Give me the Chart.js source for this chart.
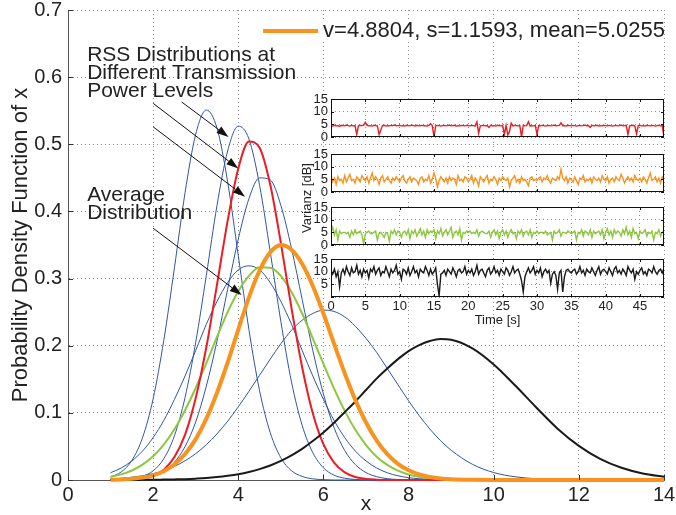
<!DOCTYPE html>
<html>
<head>
<meta charset="utf-8">
<title>RSS distributions</title>
<script src="https://cdn.jsdelivr.net/npm/chart.js@4.4.1/dist/chart.umd.min.js"></script>
<style>
  html, body { margin: 0; padding: 0; background: #fff; }
  #wrap { position: relative; width: 676px; height: 515px; }
  #wrap canvas { position: absolute; left: 0; top: 0; }
</style>
</head>
<body>
<div id="wrap">
  <canvas id="pdfChart" width="676" height="515"></canvas>
  <canvas id="var1" width="676" height="515"></canvas>
  <canvas id="var2" width="676" height="515"></canvas>
  <canvas id="var3" width="676" height="515"></canvas>
  <canvas id="var4" width="676" height="515"></canvas>
</div>
<script>
const X_GRID = [1, 1.25, 1.5, 1.75, 2, 2.25, 2.5, 2.75, 3, 3.25, 3.5, 3.75, 4, 4.25, 4.5, 4.75,
  5, 5.25, 5.5, 5.75, 6, 6.25, 6.5, 6.75, 7, 7.25, 7.5, 7.75, 8, 8.25, 8.5, 8.75, 9,
  9.5, 10, 10.5, 11, 11.5, 12, 12.5, 13, 13.5, 14];

const PDF_AVERAGE = [0.0004, 0.0008, 0.0018, 0.0036, 0.0070, 0.0131, 0.0230, 0.0386, 0.0609, 0.0914, 0.130, 0.175, 0.224, 0.272, 0.312, 0.339,
  0.350, 0.343, 0.322, 0.289, 0.248, 0.203, 0.159, 0.119, 0.0857, 0.0587, 0.0385, 0.0240, 0.0144, 0.0083, 0.0045, 0.0024, 0.0012,
  0.0003, 0, 0, 0, 0, 0, 0, 0, 0, 0];
const PDF_RED = [0.0001, 0.0002, 0.0008, 0.0023, 0.0063, 0.0154, 0.0342, 0.0675, 0.122, 0.198, 0.291, 0.386, 0.464, 0.504, 0.495, 0.440,
  0.353, 0.256, 0.168, 0.0994, 0.0533, 0.0259, 0.0113, 0.0045, 0.0016, 0.0005, 0.0001, 0, 0, 0, 0, 0, 0,
  0, 0, 0, 0, 0, 0, 0, 0, 0, 0];
const PDF_GREEN = [0.0048, 0.0084, 0.0141, 0.0228, 0.0353, 0.0527, 0.0755, 0.104, 0.137, 0.174, 0.213, 0.250, 0.281, 0.304, 0.317, 0.316,
  0.304, 0.280, 0.248, 0.211, 0.173, 0.136, 0.103, 0.0747, 0.0519, 0.0347, 0.0224, 0.0139, 0.0082, 0.0047, 0.0026, 0.0014, 0.0007,
  0.0002, 0, 0, 0, 0, 0, 0, 0, 0, 0];
const PDF_BLACK = [0, 0.0001, 0.0001, 0.0002, 0.0003, 0.0006, 0.0009, 0.0013, 0.0020, 0.0029, 0.0043, 0.0062, 0.0086, 0.0119, 0.0162, 0.0216,
  0.0284, 0.0367, 0.0464, 0.0580, 0.0708, 0.0853, 0.101, 0.117, 0.134, 0.151, 0.166, 0.180, 0.192, 0.201, 0.207, 0.210, 0.209,
  0.196, 0.172, 0.141, 0.108, 0.0765, 0.0509, 0.0315, 0.0182, 0.0098, 0.0050];
const PDF_BLUE_1 = [0.0044, 0.0120, 0.0292, 0.0629, 0.121, 0.208, 0.316, 0.428, 0.515, 0.551, 0.524, 0.444, 0.334, 0.224, 0.133, 0.0707,
  0.0331, 0.0139, 0.0053, 0.0017, 0.0005, 0, 0, 0, 0, 0, 0, 0, 0, 0, 0, 0, 0,
  0, 0, 0, 0, 0, 0, 0, 0, 0, 0];
const PDF_BLUE_2 = [0.0002, 0.0006, 0.0018, 0.0053, 0.0137, 0.0317, 0.0659, 0.123, 0.205, 0.305, 0.409, 0.490, 0.527, 0.508, 0.439, 0.340,
  0.236, 0.146, 0.0814, 0.0407, 0.0182, 0.0072, 0.0027, 0.0008, 0.0002, 0, 0, 0, 0, 0, 0, 0, 0,
  0, 0, 0, 0, 0, 0, 0, 0, 0, 0];
const PDF_BLUE_3 = [0.0001, 0.0003, 0.0009, 0.0024, 0.0058, 0.0128, 0.0263, 0.0498, 0.0866, 0.140, 0.207, 0.284, 0.359, 0.419, 0.450, 0.447,
  0.409, 0.345, 0.269, 0.193, 0.128, 0.0779, 0.0440, 0.0229, 0.0111, 0.0049, 0.0020, 0.0007, 0.0003, 0, 0, 0, 0,
  0, 0, 0, 0, 0, 0, 0, 0, 0, 0];
const PDF_BLUE_4 = [0.0108, 0.0179, 0.0284, 0.0431, 0.0632, 0.0887, 0.120, 0.155, 0.193, 0.232, 0.266, 0.294, 0.313, 0.319, 0.313, 0.294,
  0.266, 0.232, 0.193, 0.155, 0.120, 0.0887, 0.0632, 0.0431, 0.0284, 0.0179, 0.0108, 0.0063, 0.0035, 0.0019, 0.0010, 0.0005, 0.0002,
  0, 0, 0, 0, 0, 0, 0, 0, 0, 0];
const PDF_BLUE_5 = [0.0015, 0.0025, 0.0040, 0.0063, 0.0095, 0.0140, 0.0203, 0.0286, 0.0392, 0.0526, 0.0688, 0.0875, 0.109, 0.132, 0.156, 0.180,
  0.203, 0.223, 0.238, 0.248, 0.253, 0.251, 0.243, 0.229, 0.211, 0.190, 0.166, 0.142, 0.118, 0.0959, 0.0759, 0.0587, 0.0443,
  0.0234, 0.0111, 0.0048, 0.0019, 0.0007, 0.0002, 0, 0, 0, 0];

const LEGEND_TEXT = 'v=4.8804, s=1.1593, mean=5.0255';

// inset: variance over time, one sample every 0.25 s
const SAMPLE_STEP = 0.25;
const VAR_RED = [
  4.5, 4.3, 4.6, 4.4, 4.5, 4.2, 4.6, 4.5, 4.4, 4.7, 4.5, 4.3, 4.6, 4.4, 4.5, 1.0, 4.4, 4.6, 4.5, 4.7,
  5.8, 4.6, 4.4, 4.5, 4.3, 4.6, 4.5, 4.4, 1.0, 2.8, 4.5, 4.6, 4.3, 4.5, 4.4, 4.6, 4.5, 4.7, 4.4, 4.5,
  4.6, 4.4, 4.5, 4.3, 4.6, 4.5, 4.4, 4.7, 4.5, 4.3, 4.6, 4.4, 4.5, 4.6, 4.4, 4.5, 4.3, 4.6, 5.2, 4.5,
  0.0, 4.4, 4.6, 4.5, 4.3, 4.5, 4.6, 4.4, 4.5, 4.7, 4.4, 4.5, 4.6, 4.3, 4.5, 4.4, 4.6, 4.5, 4.4, 4.6,
  4.5, 4.4, 4.6, 4.5, 4.3, 6.0, 1.5, 4.4, 4.5, 4.6, 4.4, 4.5, 3.8, 4.6, 4.4, 4.5, 4.3, 4.6, 4.5, 4.4,
  4.6, 1.0, 4.5, 0.8, 2.2, 5.5, 4.4, 4.6, 4.5, 4.4, 4.5, 0.0, 4.6, 4.4, 4.5, 6.0, 4.3, 4.5, 4.4, 4.6,
  1.0, 4.5, 4.4, 4.6, 4.5, 4.3, 4.5, 4.6, 4.4, 4.5, 4.7, 4.4, 4.5, 4.6, 5.6, 4.4, 4.5, 4.3, 4.6, 4.5,
  4.4, 4.6, 4.5, 4.3, 4.5, 4.6, 4.4, 4.5, 4.7, 4.4, 4.5, 3.8, 4.6, 4.4, 4.5, 4.6, 4.3, 4.5, 4.4, 4.6,
  4.5, 4.4, 4.6, 4.5, 4.3, 4.5, 4.6, 4.4, 4.5, 4.7, 4.4, 4.5, 4.6, 1.0, 4.4, 4.5, 4.6, 4.3, 1.2, 4.5,
  4.6, 4.4, 4.5, 4.3, 4.6, 4.5, 4.4, 4.6, 4.5, 4.3, 4.5, 4.6, 4.4, 4.5, 0.0];
const VAR_ORANGE = [
  6.5, 4.0, 5.5, 3.0, 6.0, 4.5, 5.0, 3.5, 6.5, 4.0, 5.5, 7.0, 4.5, 5.0, 3.5, 6.0, 5.0, 4.0, 6.5, 5.5,
  4.5, 6.0, 3.5, 5.5, 7.5, 4.5, 6.0, 5.0, 3.0, 5.5, 6.5, 4.0, 5.0, 6.0, 4.5, 3.5, 5.5, 4.5, 6.0, 5.0,
  4.0, 5.5, 6.5, 4.5, 3.5, 5.0, 6.0, 4.0, 5.5, 5.0, 4.5, 3.0, 5.5, 6.0, 4.0, 5.0, 4.5, 6.5, 3.5, 5.0,
  7.5, 5.5, 2.0, 4.5, 6.0, 5.0, 4.0, 5.5, 3.5, 6.0, 4.5, 5.5, 5.0, 3.0, 6.5, 4.5, 5.0, 4.0, 6.0, 5.5,
  4.0, 5.0, 6.5, 3.5, 5.5, 4.5, 2.5, 6.0, 5.0, 4.0, 5.5, 6.5, 3.5, 5.0, 4.5, 6.0, 5.0, 3.0, 5.5, 4.5,
  6.0, 5.0, 4.5, 5.5, 2.0, 4.5, 5.5, 6.5, 4.0, 5.0, 3.5, 6.0, 4.5, 5.0, 4.0, 2.5, 5.5, 6.0, 4.5, 5.0,
  4.5, 5.5, 6.0, 4.0, 5.5, 5.0, 6.5, 4.5, 3.5, 5.5, 5.0, 4.5, 6.0, 5.0, 9.0, 5.5, 4.5, 6.0, 3.5, 5.5,
  5.0, 4.0, 6.0, 4.5, 3.0, 5.5, 5.0, 6.5, 4.0, 5.0, 4.5, 5.5, 3.5, 6.0, 5.0, 4.5, 5.5, 4.0, 6.5, 5.0,
  4.5, 6.0, 3.5, 5.0, 5.5, 4.0, 6.0, 5.0, 4.5, 7.0, 5.5, 3.5, 5.0, 6.0, 4.5, 5.5, 4.0, 6.5, 5.0, 4.5,
  5.5, 4.0, 6.0, 5.0, 3.5, 5.5, 7.5, 4.5, 5.0, 6.0, 4.0, 5.5, 3.5, 6.0, 5.0];
const VAR_GREEN = [
  5.0, 7.0, 4.0, 6.0, 2.0, 5.5, 4.5, 5.0, 5.0, 4.5, 5.0, 3.0, 5.5, 4.0, 6.0, 4.5, 5.0, 5.5, 4.0, 0.5,
  4.5, 5.0, 5.5, 4.5, 4.5, 5.0, 5.5, 2.0, 4.5, 5.0, 4.0, 3.0, 5.0, 4.5, 1.5, 5.5, 4.5, 6.0, 4.0, 5.5,
  5.0, 3.0, 5.0, 5.5, 4.0, 6.0, 2.5, 5.5, 4.5, 6.0, 3.5, 5.0, 6.5, 4.0, 5.5, 3.0, 6.0, 4.5, 5.5, 5.0,
  6.0, 2.5, 5.5, 4.5, 6.5, 3.5, 5.0, 6.0, 4.0, 5.5, 7.0, 3.0, 5.0, 5.5, 4.0, 6.5, 2.0, 5.0, 4.5, 5.5,
  5.0, 5.5, 4.5, 5.0, 4.5, 6.0, 3.5, 5.0, 5.5, 5.0, 4.5, 4.5, 5.5, 3.0, 5.0, 6.0, 4.0, 5.5, 2.5, 5.0,
  6.0, 4.0, 5.5, 3.0, 5.0, 6.0, 4.5, 5.0, 2.5, 5.5, 4.5, 6.0, 3.5, 5.0, 5.5, 4.0, 6.0, 3.0, 5.0, 4.5,
  5.5, 4.5, 5.0, 5.0, 4.5, 5.5, 4.0, 4.5, 5.0, 2.0, 5.5, 4.5, 5.0, 6.0, 3.5, 5.0, 5.0, 4.5, 5.5, 5.0,
  4.5, 5.0, 5.5, 2.0, 5.0, 4.5, 6.0, 3.5, 5.5, 5.0, 4.0, 6.0, 3.0, 5.5, 4.5, 5.0, 5.5, 4.0, 6.0, 2.5,
  5.0, 6.5, 4.0, 5.5, 3.0, 6.0, 4.5, 5.5, 5.0, 3.5, 6.0, 4.5, 7.0, 4.0, 5.5, 3.0, 6.5, 4.5, 5.0, 2.5,
  5.5, 4.5, 5.0, 6.0, 3.5, 5.0, 4.5, 5.5, 2.0, 5.0, 4.5, 6.0, 3.5, 5.0, 5.5];
const VAR_BLACK = [
  10.5, 9.0, 11.0, 8.0, 10.0, 4.0, 9.5, 11.0, 9.0, 12.0, 10.0, 8.5, 11.5, 9.5, 10.0, 12.5, 9.0, 10.5, 8.0, 11.0,
  9.5, 10.5, 7.5, 11.0, 10.0, 12.0, 9.0, 10.5, 11.5, 8.5, 10.0, 9.5, 12.0, 10.0, 8.0, 11.0, 9.5, 10.5, 12.5, 9.0,
  10.0, 7.0, 11.0, 10.5, 9.0, 11.5, 8.5, 10.0, 12.0, 9.5, 10.5, 8.0, 11.0, 10.0, 9.5, 12.0, 10.5, 8.5, 11.0, 9.0,
  10.0, 11.5, 5.0, 0.5, 9.0, 9.5, 10.5, 8.5, 11.0, 10.0, 9.0, 11.5, 10.0, 8.0, 10.5, 11.0, 9.5, 10.0, 12.0, 9.0,
  10.5, 9.5, 11.0, 8.5, 10.0, 12.5, 9.0, 10.5, 11.0, 9.5, 8.0, 10.5, 11.5, 9.0, 10.0, 12.0, 9.5, 10.5, 8.5, 11.0,
  10.0, 9.0, 11.5, 10.5, 8.5, 10.0, 12.0, 9.5, 10.5, 11.0, 9.0, 6.5, 2.0, 8.0, 10.0, 11.5, 9.5, 10.5, 12.0, 9.0,
  10.5, 9.5, 11.5, 8.0, 10.0, 11.0, 9.5, 10.5, 5.5, 9.0, 10.0, 8.5, 3.0, 9.5, 10.5, 2.0, 8.0, 10.5, 11.0, 10.0,
  9.5, 10.5, 11.0, 9.0, 10.0, 12.0, 9.5, 10.5, 8.5, 11.0, 10.0, 9.5, 11.5, 10.0, 8.5, 10.5, 12.0, 9.0, 10.5, 11.0,
  10.0, 9.0, 11.5, 10.0, 8.5, 11.0, 12.0, 9.5, 10.5, 9.0, 11.0, 10.0, 8.5, 12.0, 10.5, 9.5, 11.0, 7.0, 10.0, 9.0,
  10.5, 11.5, 9.0, 10.0, 8.5, 11.0, 10.5, 9.5, 12.0, 10.0, 9.0, 10.5, 11.0, 9.5, 11.5];

// annotation text and arrows, in data units of the main chart
const NOTE_LINES = [
  { text: 'RSS Distributions at', x: 0.45, y: 0.624 },
  { text: 'Different Transmission', x: 0.45, y: 0.597 },
  { text: 'Power Levels', x: 0.45, y: 0.570 },
  { text: 'Average', x: 0.45, y: 0.4155 },
  { text: 'Distribution', x: 0.45, y: 0.388 }
];
const NOTE_ARROWS = [
  { from: [2.67, 0.563], to: [3.77, 0.511] },
  { from: [2.00, 0.561], to: [4.00, 0.464] },
  { from: [2.00, 0.526], to: [4.16, 0.422] },
  { from: [2.00, 0.375], to: [4.08, 0.2755] }
];

const FONT = '"Liberation Sans", Arial, Helvetica, sans-serif';
const TEXT_COLOR = '#222';
const GRID_COLOR = '#8c8c8c';
Chart.defaults.font.family = FONT;
Chart.defaults.color = TEXT_COLOR;

const BLUE = '#2E55A5';
const CURVES = [
  { values: PDF_AVERAGE, color: '#F7931E', width: 4 },
  { values: PDF_BLACK, color: '#1A1A1A', width: 2 },
  { values: PDF_RED, color: '#ED1C24', width: 2 },
  { values: PDF_GREEN, color: '#8DC63F', width: 2 },
  { values: PDF_BLUE_1, color: BLUE, width: 1 },
  { values: PDF_BLUE_2, color: BLUE, width: 1 },
  { values: PDF_BLUE_3, color: BLUE, width: 1 },
  { values: PDF_BLUE_4, color: BLUE, width: 1 },
  { values: PDF_BLUE_5, color: BLUE, width: 1 }
];

// matlab style ticks pointing into the plot
const inwardTicks = {
  id: 'inwardTicks',
  afterDraw(chart, args, opts) {
    const { ctx, chartArea: a, scales: { x, y } } = chart;
    const len = opts.length || 5;
    ctx.save();
    ctx.strokeStyle = opts.color || '#333';
    ctx.lineWidth = 1;
    ctx.beginPath();
    x.ticks.forEach(t => {
      const px = Math.round(x.getPixelForValue(t.value)) + 0.5;
      ctx.moveTo(px, a.bottom); ctx.lineTo(px, a.bottom - len);
      if (opts.mirror) { ctx.moveTo(px, a.top); ctx.lineTo(px, a.top + len); }
    });
    y.ticks.forEach(t => {
      const py = Math.round(y.getPixelForValue(t.value)) + 0.5;
      ctx.moveTo(a.left, py); ctx.lineTo(a.left + len, py);
      if (opts.mirror) { ctx.moveTo(a.right, py); ctx.lineTo(a.right - len, py); }
    });
    ctx.stroke();
    ctx.restore();
  }
};

const pdfLegend = {
  id: 'pdfLegend',
  afterDatasetsDraw(chart) {
    const { ctx, chartArea: a } = chart;
    const ds = chart.data.datasets[0];
    const yMid = a.top + 21;
    const textRight = a.right + 1;
    ctx.save();
    ctx.font = '22px ' + FONT;
    const w = ctx.measureText(LEGEND_TEXT).width;
    const lineEnd = textRight - w - 5;
    ctx.fillStyle = '#fff';
    ctx.fillRect(lineEnd - 62, yMid - 11, a.right - 1 - (lineEnd - 62), 22);
    ctx.textAlign = 'right';
    ctx.textBaseline = 'middle';
    ctx.fillStyle = TEXT_COLOR;
    ctx.fillText(LEGEND_TEXT, textRight, yMid);
    ctx.strokeStyle = ds.borderColor;
    ctx.lineWidth = ds.borderWidth;
    ctx.beginPath();
    ctx.moveTo(lineEnd - 55, yMid);
    ctx.lineTo(lineEnd, yMid);
    ctx.stroke();
    ctx.restore();
  }
};

const notes = {
  id: 'notes',
  afterDatasetsDraw(chart) {
    const { ctx, scales: { x, y } } = chart;
    ctx.save();
    ctx.font = '21px ' + FONT;
    ctx.fillStyle = TEXT_COLOR;
    ctx.textBaseline = 'alphabetic';
    NOTE_LINES.forEach(n => ctx.fillText(n.text, x.getPixelForValue(n.x), y.getPixelForValue(n.y)));
    ctx.strokeStyle = '#111';
    ctx.fillStyle = '#111';
    ctx.lineWidth = 1;
    NOTE_ARROWS.forEach(ar => {
      const x0 = x.getPixelForValue(ar.from[0]), y0 = y.getPixelForValue(ar.from[1]);
      const x1 = x.getPixelForValue(ar.to[0]), y1 = y.getPixelForValue(ar.to[1]);
      const ang = Math.atan2(y1 - y0, x1 - x0);
      const head = 12, half = 4;
      const bx = x1 - head * Math.cos(ang), by = y1 - head * Math.sin(ang);
      ctx.beginPath();
      ctx.moveTo(x0, y0);
      ctx.lineTo(bx, by);
      ctx.stroke();
      ctx.beginPath();
      ctx.moveTo(x1, y1);
      ctx.lineTo(bx + half * Math.sin(ang), by - half * Math.cos(ang));
      ctx.lineTo(bx - half * Math.sin(ang), by + half * Math.cos(ang));
      ctx.closePath();
      ctx.fill();
    });
    ctx.restore();
  }
};

// keep the plot box where the figure has it, whatever the label sizes
const pinY = width => s => { s.width = width; s.paddingTop = 0; s.paddingBottom = 0; };
const pinX = height => s => { s.height = height; s.paddingLeft = 0; s.paddingRight = 0; };

new Chart(document.getElementById('pdfChart'), {
  type: 'line',
  data: {
    datasets: CURVES.map(c => ({
      data: X_GRID.map((xv, i) => ({ x: xv, y: c.values[i] })),
      borderColor: c.color,
      backgroundColor: c.color,
      borderWidth: c.width,
      pointRadius: 0,
      fill: false,
      cubicInterpolationMode: 'monotone',
      clip: 6
    }))
  },
  options: {
    responsive: false,
    animation: false,
    devicePixelRatio: 1,
    events: [],
    layout: { autoPadding: false, padding: { left: 0, right: 12, top: 10, bottom: 0 } },
    scales: {
      x: {
        type: 'linear',
        min: 0,
        max: 14,
        afterFit: pinX(35),
        ticks: { stepSize: 2, font: { size: 20, lineHeight: 1 }, padding: 5, maxRotation: 0 },
        grid: { color: GRID_COLOR, drawTicks: false },
        border: { color: '#555', width: 1, dash: [1, 3] },
        title: { display: true, text: 'x', font: { size: 21, lineHeight: 1 }, padding: 0 }
      },
      y: {
        min: 0,
        max: 0.7,
        afterFit: pinY(68),
        ticks: { stepSize: 0.1, font: { size: 20, lineHeight: 1 }, padding: 6 },
        grid: { color: GRID_COLOR, drawTicks: false },
        border: { color: '#555', width: 1, dash: [1, 3] },
        title: { display: true, text: 'Probability Density Function of x', font: { size: 22 }, padding: { top: 8, bottom: 0 } }
      }
    },
    plugins: {
      legend: { display: false },
      tooltip: { enabled: false },
      inwardTicks: { length: 5 }
    }
  },
  plugins: [inwardTicks, notes, pdfLegend]
});

// inset with the four variance traces
const BOX_LEFT = 331;
const BOX_RIGHT = 664;
const BOX_TOPS = [99, 154, 207, 259];
const BOX_H = 38;
const Y_LABEL_W = 30;
const T_AXIS_H = 30;

const insetFrame = {
  id: 'insetFrame',
  beforeDraw(chart) {
    const { ctx, chartArea: a } = chart;
    ctx.save();
    ctx.fillStyle = '#fff';
    ctx.fillRect(a.left, a.top, a.right - a.left, a.bottom - a.top);
    ctx.restore();
  },
  afterDraw(chart, args, opts) {
    const { ctx, chartArea: a } = chart;
    ctx.save();
    ctx.strokeStyle = '#111';
    ctx.lineWidth = 1;
    ctx.strokeRect(a.left + 0.5, a.top + 0.5, a.right - a.left - 1, a.bottom - a.top - 1);
    if (opts.groupLabel) {
      const mid = (BOX_TOPS[0] + BOX_TOPS[BOX_TOPS.length - 1] + BOX_H) / 2;
      ctx.translate(a.left - 24, mid);
      ctx.rotate(-Math.PI / 2);
      ctx.font = '13px ' + FONT;
      ctx.fillStyle = TEXT_COLOR;
      ctx.textAlign = 'center';
      ctx.textBaseline = 'middle';
      ctx.fillText(opts.groupLabel, 0, 0);
    }
    ctx.restore();
  }
};

function makeInset(canvasId, k, values, color) {
  const last = k === BOX_TOPS.length - 1;
  const tMax = (values.length - 1) * SAMPLE_STEP;
  return new Chart(document.getElementById(canvasId), {
    type: 'line',
    data: {
      datasets: [{
        data: values.map((v, i) => ({ x: i * SAMPLE_STEP, y: v })),
        borderColor: color,
        borderWidth: 1.4,
        pointRadius: 0,
        tension: 0,
        fill: false
      }]
    },
    options: {
      responsive: false,
      animation: false,
      devicePixelRatio: 1,
      events: [],
      layout: {
        autoPadding: false,
        padding: {
          left: BOX_LEFT - Y_LABEL_W,
          right: 676 - BOX_RIGHT,
          top: BOX_TOPS[k],
          bottom: 515 - BOX_TOPS[k] - BOX_H - (last ? T_AXIS_H : 0)
        }
      },
      scales: {
        x: {
          type: 'linear',
          min: 0,
          max: tMax,
          afterFit: pinX(last ? T_AXIS_H : 0),
          ticks: {
            display: last,
            stepSize: 5,
            includeBounds: false,
            autoSkip: false,
            maxRotation: 0,
            font: { size: 13, lineHeight: 1 },
            padding: 3
          },
          grid: { color: GRID_COLOR, drawTicks: false },
          border: { display: false, dash: [1, 3] },
          title: { display: last, text: 'Time [s]', font: { size: 13, lineHeight: 1 }, padding: 0 }
        },
        y: {
          min: 0,
          max: 15,
          afterFit: pinY(Y_LABEL_W),
          ticks: {
            stepSize: 5,
            autoSkip: false,
            font: { size: 13, lineHeight: 1 },
            padding: 3,
            callback: v => (last && v === 0 ? '' : v)
          },
          grid: { color: GRID_COLOR, drawTicks: false },
          border: { display: false, dash: [1, 3] }
        }
      },
      plugins: {
        legend: { display: false },
        tooltip: { enabled: false },
        inwardTicks: { length: 3, mirror: true, color: '#111' },
        insetFrame: { groupLabel: k === 0 ? 'Varianz [dB]' : null }
      }
    },
    plugins: [insetFrame, inwardTicks]
  });
}

makeInset('var1', 0, VAR_RED, '#ED1C24');
makeInset('var2', 1, VAR_ORANGE, '#F7931E');
makeInset('var3', 2, VAR_GREEN, '#8DC63F');
makeInset('var4', 3, VAR_BLACK, '#1A1A1A');
</script>
</body>
</html>
